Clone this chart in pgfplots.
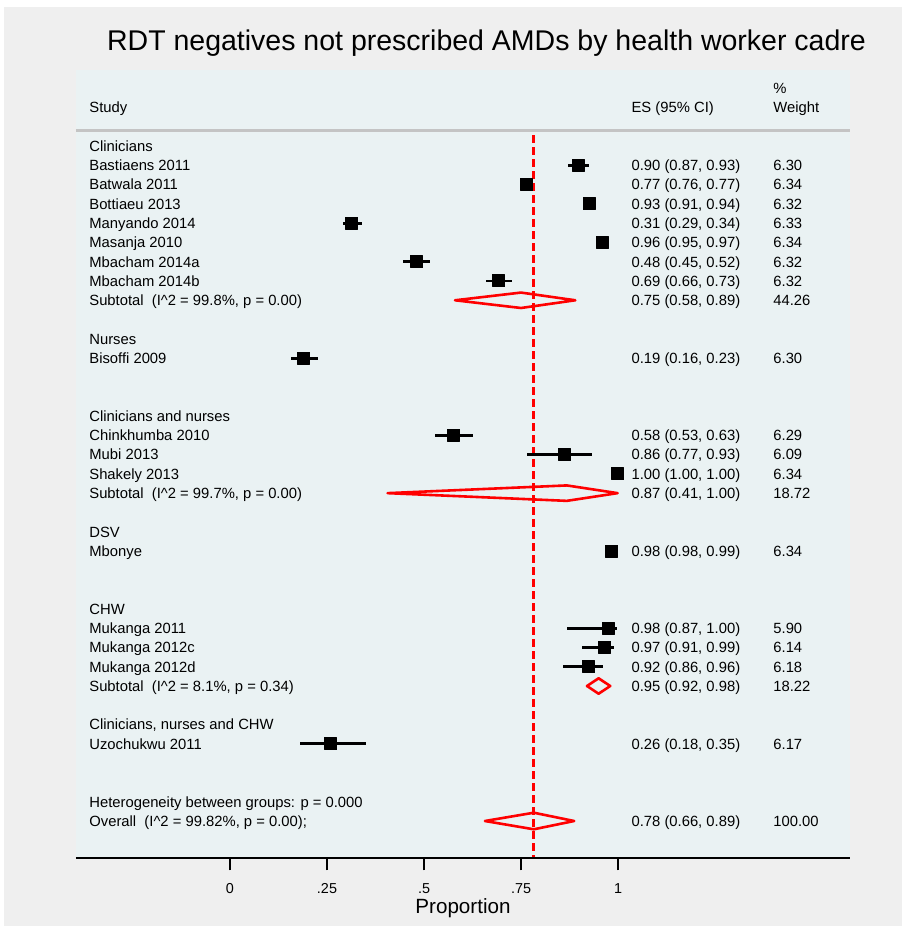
\documentclass[border=0pt]{standalone}
\usepackage{fontspec}
\setmainfont{Liberation Sans}
\usepackage{pgfplots}
\usepackage{pgfplotstable}
\pgfplotsset{compat=1.18}
\definecolor{outerbg}{HTML}{EFEFEF}
\definecolor{panelbg}{HTML}{EAF2F3}
\definecolor{hdrline}{HTML}{C4C4C4}
\newcommand{\fs}{\fontsize{7.4}{8.8}\selectfont}
\newcommand{\ihat}{I\textasciicircum 2}
\tikzset{lab/.style={anchor=base west, inner sep=0pt, font=\fs, yshift=-2.65pt}}

% row  es  lo  hi  (row index from top; plotted at y = -row)
\pgfplotstableread{
row es lo hi
1 0.897 0.870 0.924
2 0.765 0.757 0.772
3 0.926 0.910 0.940
4 0.314 0.290 0.340
5 0.960 0.950 0.970
6 0.481 0.447 0.515
7 0.693 0.661 0.726
11 0.190 0.157 0.228
15 0.577 0.528 0.627
16 0.863 0.765 0.932
17 0.999 0.999 0.999
21 0.984 0.980 0.990
25 0.975 0.868 0.997
26 0.966 0.907 0.990
27 0.924 0.859 0.962
31 0.260 0.180 0.350
}\studies

\begin{document}
\begin{tikzpicture}
\fill[white] (0,0) rectangle (451pt,463pt);
\fill[outerbg] (2pt,0) rectangle (451pt,459.5pt);
\begin{axis}[
  at={(38pt,34pt)}, anchor=south west, scale only axis,
  width=387pt, height=394pt,
  xmin=-0.3969, xmax=1.5979,
  ymin=-36.918, ymax=3.941,
  axis x line=bottom, axis y line=none,
  axis line style={black, line width=1.35pt, -},
  axis background/.style={fill=panelbg},
  xtick={0,0.25,0.5,0.75,1}, xticklabels={0,.25,.5,.75,1},
  tick align=outside, major tick length=6.2pt,
  every tick/.style={black, line width=1.1pt},
  xticklabel style={font=\fontsize{7.2}{8.5}\selectfont, yshift=-3pt},
  /pgf/number format/assume math mode=true,
  clip=false,
]
% header rule
\addplot[hdrline, line width=1.5pt] coordinates {(-0.3969,0.778) (1.5979,0.778)};
% overall effect dashed line
\addplot[red, line width=1.5pt, dash pattern=on 4pt off 2pt] coordinates {(0.783,0.57) (0.783,-36.85)};
% subtotal and overall diamonds
\addplot[red, line width=1.3pt, line join=round] coordinates {(0.58,-8) (0.75,-7.6) (0.89,-8) (0.75,-8.4)} -- cycle;
\addplot[red, line width=1.3pt, line join=round] coordinates {(0.406,-18) (0.868,-17.6) (0.999,-18) (0.868,-18.4)} -- cycle;
\addplot[red, line width=1.3pt, line join=round] coordinates {(0.92,-28) (0.95,-27.6) (0.98,-28) (0.95,-28.4)} -- cycle;
\addplot[red, line width=1.3pt, line join=round] coordinates {(0.657,-35) (0.783,-34.57) (0.887,-35) (0.783,-35.43)} -- cycle;
% studies
\addplot[only marks, mark=square*, mark size=3pt,
  mark options={fill=black, draw=black, line width=0.5pt, line join=round},
  error bars/.cd, x dir=both, x explicit, error mark=none,
  error bar style={line width=1.4pt, black}]
  table[x=es, y expr=-\thisrow{row},
        x error plus expr=\thisrow{hi}-\thisrow{es},
        x error minus expr=\thisrow{es}-\thisrow{lo}] {\studies};

% title and axis title
\node[anchor=base, inner sep=0pt, font=\fontsize{14.25}{17}\selectfont, yshift=-5.1pt] at (axis cs:0.661,5.496) {RDT negatives not prescribed AMDs by health worker cadre};
\node[anchor=base, inner sep=0pt, font=\fontsize{10.3}{12}\selectfont, yshift=-3.7pt] at (axis cs:0.6005,-39.40) {Proportion};

% headers
\node[lab] at (axis cs:-0.3634,2.022) {Study};
\node[lab] at (axis cs:1.034,2.022) {ES (95\% CI)};
\node[lab] at (axis cs:1.3995,3.007) {\%};
\node[lab] at (axis cs:1.3995,2.022) {Weight};

% study column
\node[lab] at (axis cs:-0.3634,0) {Clinicians};
\node[lab] at (axis cs:-0.3634,-1) {Bastiaens 2011};
\node[lab] at (axis cs:-0.3634,-2) {Batwala 2011};
\node[lab] at (axis cs:-0.3634,-3) {Bottiaeu 2013};
\node[lab] at (axis cs:-0.3634,-4) {Manyando 2014};
\node[lab] at (axis cs:-0.3634,-5) {Masanja 2010};
\node[lab] at (axis cs:-0.3634,-6) {Mbacham 2014a};
\node[lab] at (axis cs:-0.3634,-7) {Mbacham 2014b};
\node[lab] at (axis cs:-0.3634,-8) {Subtotal\ \ (\ihat{} = 99.8\%, p = 0.00)};
\node[lab] at (axis cs:-0.3634,-10) {Nurses};
\node[lab] at (axis cs:-0.3634,-11) {Bisoffi 2009};
\node[lab] at (axis cs:-0.3634,-14) {Clinicians and nurses};
\node[lab] at (axis cs:-0.3634,-15) {Chinkhumba 2010};
\node[lab] at (axis cs:-0.3634,-16) {Mubi 2013};
\node[lab] at (axis cs:-0.3634,-17) {Shakely 2013};
\node[lab] at (axis cs:-0.3634,-18) {Subtotal\ \ (\ihat{} = 99.7\%, p = 0.00)};
\node[lab] at (axis cs:-0.3634,-20) {DSV};
\node[lab] at (axis cs:-0.3634,-21) {Mbonye};
\node[lab] at (axis cs:-0.3634,-24) {CHW};
\node[lab] at (axis cs:-0.3634,-25) {Mukanga 2011};
\node[lab] at (axis cs:-0.3634,-26) {Mukanga 2012c};
\node[lab] at (axis cs:-0.3634,-27) {Mukanga 2012d};
\node[lab] at (axis cs:-0.3634,-28) {Subtotal\ \ (\ihat{} = 8.1\%, p = 0.34)};
\node[lab] at (axis cs:-0.3634,-30) {Clinicians, nurses and CHW};
\node[lab] at (axis cs:-0.3634,-31) {Uzochukwu 2011};
\node[lab] at (axis cs:-0.3634,-34) {Heterogeneity between groups: p = 0.000};
\node[lab] at (axis cs:-0.3634,-35) {Overall\ \ (\ihat{} = 99.82\%, p = 0.00);};

% ES column
\node[lab] at (axis cs:1.034,-1) {0.90 (0.87, 0.93)};
\node[lab] at (axis cs:1.034,-2) {0.77 (0.76, 0.77)};
\node[lab] at (axis cs:1.034,-3) {0.93 (0.91, 0.94)};
\node[lab] at (axis cs:1.034,-4) {0.31 (0.29, 0.34)};
\node[lab] at (axis cs:1.034,-5) {0.96 (0.95, 0.97)};
\node[lab] at (axis cs:1.034,-6) {0.48 (0.45, 0.52)};
\node[lab] at (axis cs:1.034,-7) {0.69 (0.66, 0.73)};
\node[lab] at (axis cs:1.034,-8) {0.75 (0.58, 0.89)};
\node[lab] at (axis cs:1.034,-11) {0.19 (0.16, 0.23)};
\node[lab] at (axis cs:1.034,-15) {0.58 (0.53, 0.63)};
\node[lab] at (axis cs:1.034,-16) {0.86 (0.77, 0.93)};
\node[lab] at (axis cs:1.034,-17) {1.00 (1.00, 1.00)};
\node[lab] at (axis cs:1.034,-18) {0.87 (0.41, 1.00)};
\node[lab] at (axis cs:1.034,-21) {0.98 (0.98, 0.99)};
\node[lab] at (axis cs:1.034,-25) {0.98 (0.87, 1.00)};
\node[lab] at (axis cs:1.034,-26) {0.97 (0.91, 0.99)};
\node[lab] at (axis cs:1.034,-27) {0.92 (0.86, 0.96)};
\node[lab] at (axis cs:1.034,-28) {0.95 (0.92, 0.98)};
\node[lab] at (axis cs:1.034,-31) {0.26 (0.18, 0.35)};
\node[lab] at (axis cs:1.034,-35) {0.78 (0.66, 0.89)};

% weight column
\node[lab] at (axis cs:1.3995,-1) {6.30};
\node[lab] at (axis cs:1.3995,-2) {6.34};
\node[lab] at (axis cs:1.3995,-3) {6.32};
\node[lab] at (axis cs:1.3995,-4) {6.33};
\node[lab] at (axis cs:1.3995,-5) {6.34};
\node[lab] at (axis cs:1.3995,-6) {6.32};
\node[lab] at (axis cs:1.3995,-7) {6.32};
\node[lab] at (axis cs:1.3995,-8) {44.26};
\node[lab] at (axis cs:1.3995,-11) {6.30};
\node[lab] at (axis cs:1.3995,-15) {6.29};
\node[lab] at (axis cs:1.3995,-16) {6.09};
\node[lab] at (axis cs:1.3995,-17) {6.34};
\node[lab] at (axis cs:1.3995,-18) {18.72};
\node[lab] at (axis cs:1.3995,-21) {6.34};
\node[lab] at (axis cs:1.3995,-25) {5.90};
\node[lab] at (axis cs:1.3995,-26) {6.14};
\node[lab] at (axis cs:1.3995,-27) {6.18};
\node[lab] at (axis cs:1.3995,-28) {18.22};
\node[lab] at (axis cs:1.3995,-31) {6.17};
\node[lab] at (axis cs:1.3995,-35) {100.00};
\end{axis}
\end{tikzpicture}
\end{document}
